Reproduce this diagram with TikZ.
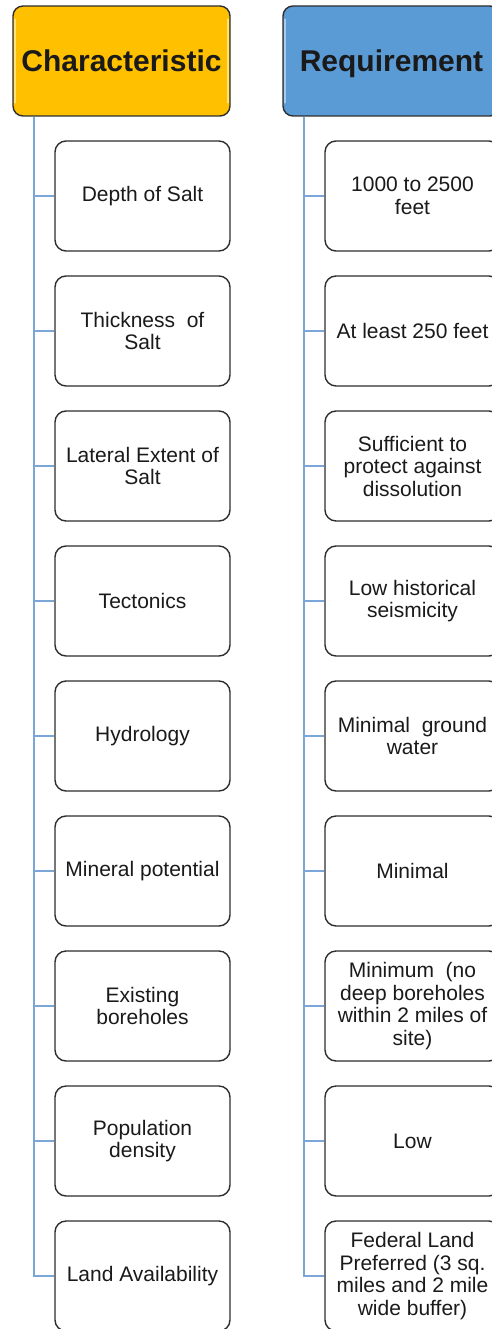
\documentclass[tikz,border=0pt]{standalone}
\usepackage{fontspec}
\setmainfont{Liberation Sans}
\definecolor{goldhdr}{HTML}{FFC000}
\definecolor{goldlite}{HTML}{FFE27A}
\definecolor{bluehdr}{HTML}{5B9BD5}
\definecolor{bluelite}{HTML}{A9CBEB}
\definecolor{linkblue}{HTML}{7BA7D8}
\definecolor{edgegray}{HTML}{2E2E2E}
\definecolor{inktext}{HTML}{1A1A1A}
\begin{document}
\begin{tikzpicture}[x=1pt,y=-1pt,
  hdrbox/.style={draw=edgegray, line width=1.4pt, rounded corners=10pt,
    minimum width=217pt, minimum height=110pt, inner sep=0pt,
    text height=27.5pt, text depth=6pt,
    font=\fontsize{30}{32}\selectfont\bfseries, text=inktext},
  itembox/.style={draw=edgegray, line width=1.4pt, rounded corners=11pt, fill=white,
    minimum width=175pt, minimum height=110pt, inner sep=0pt, align=center,
    font=\fontsize{21}{22.5}\selectfont, text=inktext},
  link/.style={draw=linkblue, line width=1.8pt},
  gleam/.style={line width=2pt, line cap=round}
]
\useasboundingbox (0,0) rectangle (492,1329);
\clip (0,0) rectangle (492,1329);

% column headers
\node[hdrbox, fill=goldhdr] (hc) at (121.5,61) {Characteristic};
\node[hdrbox, fill=bluehdr] (hr) at (391.5,61) {Requirement};
% soft edge highlights on the headers
\draw[gleam, goldlite] ([shift={(3pt,-14pt)}]hc.north west) -- ([shift={(3pt,14pt)}]hc.south west);
\draw[gleam, goldlite] ([shift={(-3pt,-14pt)}]hc.north east) -- ([shift={(-3pt,14pt)}]hc.south east);
\draw[gleam, bluelite] ([shift={(3pt,-14pt)}]hr.north west) -- ([shift={(3pt,14pt)}]hr.south west);

% characteristic items
\node[itembox] (c1) at (142.5,196) {Depth of Salt};
\node[itembox] (c2) at (142.5,331) {Thickness\ \ of\\Salt};
\node[itembox] (c3) at (142.5,466) {Lateral Extent of\\Salt};
\node[itembox] (c4) at (142.5,601) {Tectonics};
\node[itembox] (c5) at (142.5,736) {Hydrology};
\node[itembox] (c6) at (142.5,871) {Mineral potential};
\node[itembox] (c7) at (142.5,1006) {Existing\\boreholes};
\node[itembox] (c8) at (142.5,1141) {Population\\density};
\node[itembox] (c9) at (142.5,1276) {Land Availability};

% requirement items
\node[itembox] (r1) at (412.5,196) {1000 to 2500\\feet};
\node[itembox] (r2) at (412.5,331) {At least 250 feet};
\node[itembox] (r3) at (412.5,466) {Sufficient to\\protect against\\dissolution};
\node[itembox] (r4) at (412.5,601) {Low historical\\seismicity};
\node[itembox] (r5) at (412.5,736) {Minimal\ \ ground\\water};
\node[itembox] (r6) at (412.5,871) {Minimal};
\node[itembox] (r7) at (412.5,1006) {Minimum\ \ (no\\deep boreholes\\within\ 2 miles\ of\\site)};
\node[itembox] (r8) at (412.5,1141) {Low};
\node[itembox] (r9) at (412.5,1276) {Federal Land\\Preferred (3 sq.\\miles and 2 mile\\wide buffer)};

% tree connectors
\coordinate (hcroot) at ([xshift=22pt]hc.south west);
\coordinate (hrroot) at ([xshift=22pt]hr.south west);
\foreach \i in {1,...,9}{
  \draw[link] (hcroot) |- (c\i.west);
  \draw[link] (hrroot) |- (r\i.west);
}
\end{tikzpicture}
\end{document}
